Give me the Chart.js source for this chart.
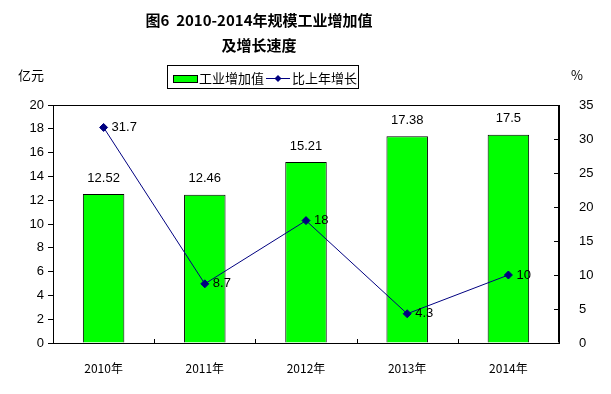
<!DOCTYPE html>
<html>
<head>
<meta charset="utf-8">
<script src="https://cdn.jsdelivr.net/npm/chart.js@4"></script>
<style>
  html, body { margin: 0; padding: 0; background: #fff; }
  #wrap { width: 611px; height: 394px; position: relative; }
</style>
</head>
<body>
<div id="wrap"><canvas id="chart" width="611" height="394"></canvas></div>
<script>
const years = ['2010年', '2011年', '2012年', '2013年', '2014年'];
const addedValue = [12.52, 12.46, 15.21, 17.38, 17.5];
const growthRate = [31.7, 8.7, 18, 4.3, 10];
const leftTicks = [0, 2, 4, 6, 8, 10, 12, 14, 16, 18, 20];
const rightTicks = [0, 5, 10, 15, 20, 25, 30, 35];

const FONT = "Arial, 'Liberation Sans', 'Noto Sans CJK SC', sans-serif";
const CJK = "'Noto Sans CJK SC', 'Liberation Sans', sans-serif";

// title, legend, axis units, frame and inner ticks
const decor = {
    id: 'decor',
    afterDraw(chart) {
        const ctx = chart.ctx;
        const a = chart.chartArea;
        const x = chart.scales.x;
        const y1 = chart.scales.y1;
        ctx.save();

        // title
        ctx.fillStyle = '#000';
        ctx.textAlign = 'center';
        ctx.textBaseline = 'middle';
        ctx.font = "bold 15px " + CJK;
        ctx.fillText('图6  2010-2014年规模工业增加值', 259, 20);
        ctx.fillText('及增长速度', 259, 45);

        // units
        ctx.font = "13px " + CJK;
        ctx.textAlign = 'left';
        ctx.fillText('亿元', 18, 75);
        ctx.fillText('%', 571, 75);

        // legend box
        ctx.strokeStyle = '#000';
        ctx.lineWidth = 1;
        ctx.strokeRect(167.5, 65.5, 191, 23);
        ctx.fillStyle = '#00ff00';
        ctx.fillRect(173, 75, 24, 7);
        ctx.strokeRect(173.5, 75.5, 24, 7);
        ctx.fillStyle = '#000';
        ctx.font = "13px " + CJK;
        ctx.fillText('工业增加值', 199, 78);
        ctx.strokeStyle = '#000080';
        ctx.beginPath();
        ctx.moveTo(266, 78.5);
        ctx.lineTo(290, 78.5);
        ctx.stroke();
        ctx.fillStyle = '#000080';
        ctx.beginPath();
        ctx.moveTo(278, 75);
        ctx.lineTo(281.5, 78.5);
        ctx.lineTo(278, 82);
        ctx.lineTo(274.5, 78.5);
        ctx.closePath();
        ctx.fill();
        ctx.fillStyle = '#000';
        ctx.fillText('比上年增长', 292, 78);

        // frame
        ctx.strokeStyle = '#000';
        ctx.beginPath();
        ctx.moveTo(a.left + 0.5, a.top + 0.5);
        ctx.lineTo(a.right - 0.5, a.top + 0.5);
        ctx.lineTo(a.right - 0.5, a.bottom - 0.5);
        ctx.stroke();

        // right axis ticks, pointing inward
        rightTicks.forEach(v => {
            const py = Math.round(y1.getPixelForValue(v)) + 0.5;
            ctx.beginPath();
            ctx.moveTo(a.right - 5, py);
            ctx.lineTo(a.right, py);
            ctx.stroke();
        });

        // category separators on the x axis
        for (let i = 1; i < years.length; i++) {
            const px = Math.round((x.getPixelForValue(i - 1) + x.getPixelForValue(i)) / 2) + 0.5;
            ctx.beginPath();
            ctx.moveTo(px, a.bottom - 4);
            ctx.lineTo(px, a.bottom);
            ctx.stroke();
        }

        // value labels (dataset 0 = line, dataset 1 = bars)
        ctx.fillStyle = '#000';
        ctx.font = "13px " + FONT;
        ctx.textAlign = 'center';
        chart.getDatasetMeta(1).data.forEach((bar, i) => {
            ctx.fillText(String(addedValue[i]), bar.x, bar.y - 16);
        });
        ctx.textAlign = 'left';
        chart.getDatasetMeta(0).data.forEach((pt, i) => {
            ctx.fillText(String(growthRate[i]), pt.x + 8, pt.y);
        });

        ctx.restore();
    }
};

new Chart(document.getElementById('chart'), {
    data: {
        labels: years,
        datasets: [{
            type: 'line',
            label: '比上年增长',
            data: growthRate,
            yAxisID: 'y1',
            borderColor: '#000080',
            backgroundColor: '#000080',
            borderWidth: 1,
            pointStyle: 'rectRot',
            pointRadius: 4,
            pointHoverRadius: 4,
            tension: 0,
            order: 0
        }, {
            type: 'bar',
            label: '工业增加值',
            data: addedValue,
            yAxisID: 'y',
            backgroundColor: '#00ff00',
            borderColor: '#000',
            borderWidth: 1,
            inflateAmount: 0,
            barPercentage: 0.41,
            categoryPercentage: 1,
            order: 1
        }]
    },
    options: {
        responsive: false,
        animation: false,
        devicePixelRatio: 1,
        layout: { padding: { top: 105, left: 0, right: 0, bottom: 0 } },
        plugins: {
            legend: { display: false },
            tooltip: { enabled: false }
        },
        scales: {
            x: {
                offset: true,
                grid: { display: false },
                border: { color: '#000', width: 1 },
                ticks: { color: '#000', font: { size: 12, family: CJK }, padding: 10 },
                afterFit(s) { s.height = 51; }
            },
            y: {
                position: 'left',
                min: 0,
                max: 20,
                grid: { drawOnChartArea: false, color: '#000', tickLength: 5 },
                border: { color: '#000', width: 1 },
                ticks: {
                    stepSize: 2,
                    color: '#000',
                    font: { size: 13, family: FONT },
                    padding: 4
                },
                afterBuildTicks(s) { s.ticks = leftTicks.map(v => ({ value: v })); },
                afterFit(s) { s.width = 53; }
            },
            y1: {
                position: 'right',
                min: 0,
                max: 35,
                grid: { display: false },
                border: { color: '#000', width: 1 },
                ticks: {
                    stepSize: 5,
                    color: '#000',
                    font: { size: 13, family: FONT },
                    padding: 12
                },
                afterBuildTicks(s) { s.ticks = rightTicks.map(v => ({ value: v })); },
                afterFit(s) { s.width = 52; }
            }
        }
    },
    plugins: [decor]
});
</script>
</body>
</html>
